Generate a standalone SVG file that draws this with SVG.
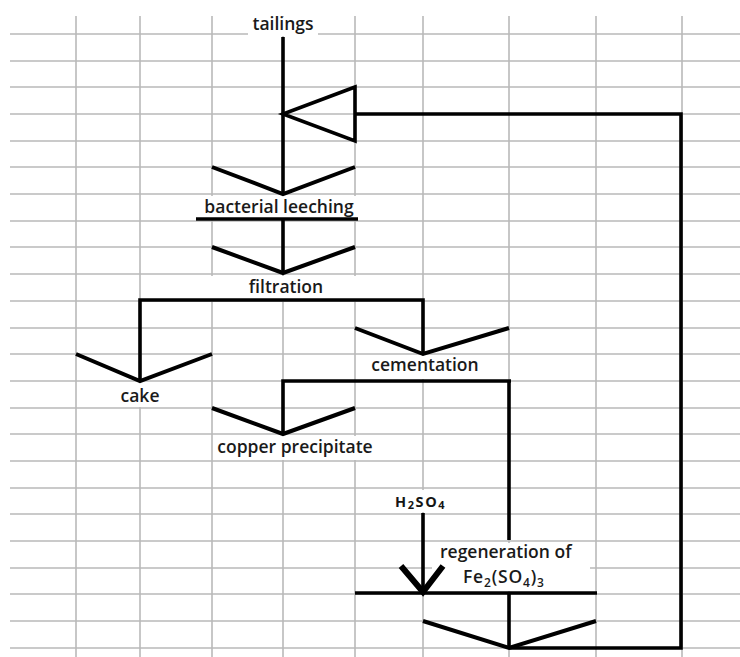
<svg xmlns="http://www.w3.org/2000/svg" width="740" height="657" viewBox="0 0 740 657">
  <style>
    .grid line { stroke: #b9b9b9; stroke-width: 1.6; }
    .bg { fill: #ffffff; }
    .flow { fill: none; stroke: #000000; stroke-width: 3.6; stroke-linejoin: miter; stroke-linecap: butt; }
    .head { fill: none; stroke: #000000; stroke-width: 4; stroke-linejoin: miter; }
    .label { font-family: "Open Sans", "Noto Sans", "DejaVu Sans", sans-serif; font-size: 17.5px; font-weight: 600; fill: #1a1a1a; }
    .small { font-family: "Open Sans", "Noto Sans", "DejaVu Sans", sans-serif; font-size: 14.5px; font-weight: 700; fill: #151515; letter-spacing: 1.6px; }
  </style>

  <rect x="0" y="0" width="740" height="657" fill="#ffffff"/>

  <!-- spreadsheet grid -->
  <g class="grid">
    <line x1="76" y1="16" x2="76" y2="657"/>
    <line x1="140" y1="16" x2="140" y2="657"/>
    <line x1="212" y1="16" x2="212" y2="657"/>
    <line x1="283" y1="16" x2="283" y2="657"/>
    <line x1="355" y1="16" x2="355" y2="657"/>
    <line x1="423" y1="16" x2="423" y2="657"/>
    <line x1="509" y1="16" x2="509" y2="657"/>
    <line x1="596" y1="16" x2="596" y2="657"/>
    <line x1="682" y1="16" x2="682" y2="657"/>
    <line x1="10" y1="34" x2="740" y2="34"/>
    <line x1="10" y1="61" x2="740" y2="61"/>
    <line x1="10" y1="87" x2="740" y2="87"/>
    <line x1="10" y1="114" x2="740" y2="114"/>
    <line x1="10" y1="141" x2="740" y2="141"/>
    <line x1="10" y1="167" x2="740" y2="167"/>
    <line x1="10" y1="194" x2="740" y2="194"/>
    <line x1="10" y1="221" x2="740" y2="221"/>
    <line x1="10" y1="247" x2="740" y2="247"/>
    <line x1="10" y1="274" x2="740" y2="274"/>
    <line x1="10" y1="301" x2="740" y2="301"/>
    <line x1="10" y1="328" x2="740" y2="328"/>
    <line x1="10" y1="354" x2="740" y2="354"/>
    <line x1="10" y1="381" x2="740" y2="381"/>
    <line x1="10" y1="408" x2="740" y2="408"/>
    <line x1="10" y1="434" x2="740" y2="434"/>
    <line x1="10" y1="461" x2="740" y2="461"/>
    <line x1="10" y1="488" x2="740" y2="488"/>
    <line x1="10" y1="514" x2="740" y2="514"/>
    <line x1="10" y1="541" x2="740" y2="541"/>
    <line x1="10" y1="568" x2="740" y2="568"/>
    <line x1="10" y1="594" x2="740" y2="594"/>
    <line x1="10" y1="621" x2="740" y2="621"/>
    <line x1="10" y1="648" x2="740" y2="648"/>
  </g>

  <!-- labelled cells: white fill over the grid, then the text -->
  <g id="tailings">
    <rect class="bg" x="248" y="17" width="70" height="19"/>
    <text class="label" x="283" y="30" text-anchor="middle">tailings</text>
  </g>

  <g id="bacterial-leeching">
    <rect class="bg" x="200" y="196" width="157" height="22"/>
    <text class="label" x="279" y="213" text-anchor="middle">bacterial leeching</text>
  </g>

  <g id="filtration">
    <rect class="bg" x="211" y="276" width="145" height="23"/>
    <text class="label" x="286" y="293" text-anchor="middle">filtration</text>
  </g>

  <g id="cake">
    <rect class="bg" x="78" y="383" width="132" height="24"/>
    <text class="label" x="140" y="402" text-anchor="middle">cake</text>
  </g>

  <g id="cementation">
    <rect class="bg" x="357" y="356" width="148" height="23"/>
    <text class="label" x="425" y="371" text-anchor="middle">cementation</text>
  </g>

  <g id="copper-precipitate">
    <rect class="bg" x="213" y="436" width="168" height="24"/>
    <text class="label" x="295" y="453" text-anchor="middle">copper precipitate</text>
  </g>

  <g id="h2so4">
    <rect class="bg" x="390" y="490" width="62" height="22"/>
    <text class="small" x="395" y="507">H<tspan font-size="11" dy="2">2</tspan><tspan dy="-2">SO</tspan><tspan font-size="11" dy="2">4</tspan></text>
  </g>

  <g id="regeneration">
    <rect class="bg" x="432" y="543" width="158" height="48"/>
    <text class="label" x="440" y="558">regeneration of</text>
    <text class="label" x="463" y="583" letter-spacing="0.8">Fe<tspan font-size="12" dy="4">2</tspan><tspan dy="-4">(SO</tspan><tspan font-size="12" dy="4">4</tspan><tspan dy="-4">)</tspan><tspan font-size="12" dy="4">3</tspan></text>
  </g>

  <!-- connectors and arrowheads -->
  <g id="connectors">
    <path class="flow" d="M283,37 V194"/>
    <path class="flow" d="M355,87 L283,114 L355,141 Z"/>
    <path class="flow" d="M355,114 H681 V648 H509"/>
    <path class="head" d="M212,167 L283,194 L355,167"/>
    <path class="flow" d="M196,219 H358"/>
    <path class="flow" d="M283,219 V273"/>
    <path class="head" d="M212,247 L283,273 L355,247"/>
    <path class="flow" d="M140,381 V300 H423 V354"/>
    <path class="head" d="M76,354 L140,381 L212,354"/>
    <path class="head" d="M355,328 L423,354 L509,328"/>
    <path class="flow" d="M283,434 V381 H511"/>
    <path class="flow" d="M509,381 V540"/>
    <path class="head" d="M212,408 L283,434 L355,408"/>
    <path class="flow" d="M423,513 V590"/>
    <path class="head" style="stroke-width:6" d="M401,566 L423,592 L443,566"/>
    <path class="flow" d="M355,593 H597"/>
    <path class="flow" d="M509,593 V648"/>
    <path class="head" d="M423,621 L509,648 L596,621"/>
  </g>
</svg>
